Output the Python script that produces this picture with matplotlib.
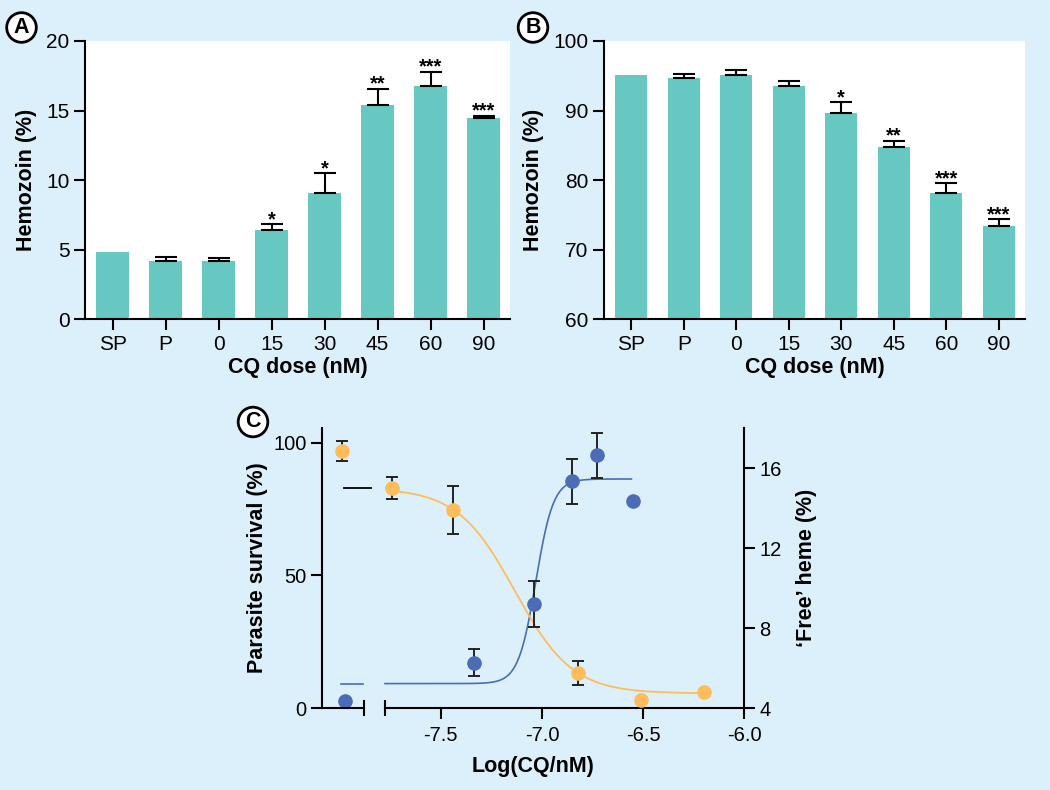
import matplotlib
matplotlib.use("Agg")
import matplotlib.pyplot as plt
from matplotlib.ticker import FormatStrFormatter
import numpy as np

plt.rcParams['font.family'] = ['Liberation Sans', 'DejaVu Sans']
plt.rcParams['axes.unicode_minus'] = False

BG = '#dcf0fc'
TEAL = '#67c8c2'
ORANGE = '#fdbd5a'
BLUE = '#4a6db5'

# panels A and B: hemozoin per CQ dose
doses = ['SP', 'P', '0', '15', '30', '45', '60', '90']
hz_a = [4.86, 4.19, 4.19, 6.41, 9.11, 15.43, 16.79, 14.45]
hz_a_err = [0, 0.31, 0.26, 0.43, 1.39, 1.15, 0.99, 0.19]
stars_a = ['', '', '', '*', '*', '**', '***', '***']

hz_b = [95.07, 94.74, 95.07, 93.49, 89.62, 84.74, 78.18, 73.40]
hz_b_err = [0, 0.46, 0.72, 0.77, 1.58, 0.91, 1.39, 1.00]
stars_b = ['', '', '', '', '*', '**', '***', '***']

# panel C: survival (left axis) and free heme (right axis)
surv_x = [-7.99, -7.744, -7.438, -6.82, -6.51, -6.20]
surv_y = [96.9, 83.0, 74.8, 13.2, 3.1, 6.0]
surv_err = [3.7, 4.2, 9.0, 4.5, 0, 0]

heme_x = [-7.975, -7.336, -7.037, -6.85, -6.728, -6.548]
heme_y = [4.34, 6.27, 9.22, 15.33, 16.63, 14.35]
heme_err = [0, 0.67, 1.15, 1.12, 1.12, 0]

# fitted dose-response curves (bottom, top, logEC50, hill)
surv_fit = (5.5, 83.0, -7.134, 3.05)
heme_fit = (5.22, 15.45, -7.03, 10.0)

W, H = 1050, 790
fig = plt.figure(figsize=(W / 100, H / 100), dpi=100, facecolor=BG)


def px_axes(left, top, right, bottom):
    return fig.add_axes([left / W, 1 - bottom / H, (right - left) / W, (bottom - top) / H])


def style(ax):
    for s in ['left', 'bottom', 'right']:
        ax.spines[s].set_linewidth(1.5)
    ax.tick_params(width=1.5, length=8, labelsize=15, pad=3)


def bar_panel(ax, vals, errs, stars, ylim, yticks):
    x = np.arange(len(doses))
    ax.bar(x, vals, width=0.61, color=TEAL, zorder=2)
    has = np.asarray(errs) > 0
    ex = x[has]
    ev = np.asarray(vals)[has]
    ee = np.asarray(errs)[has]
    ax.errorbar(ex, ev, yerr=[np.zeros(len(ee)), ee], fmt='none', ecolor='black',
                elinewidth=1.5, capsize=8, capthick=1.5, zorder=3)
    for xi, v, e, s in zip(x, vals, errs, stars):
        if s:
            ax.annotate(s, (xi, v + e), xytext=(0, -0.5), textcoords='offset points',
                        ha='center', va='baseline', fontsize=14.5, fontweight='bold')
    ax.set_xlim(-0.52, 7.5)
    ax.set_ylim(*ylim)
    ax.set_yticks(yticks)
    ax.set_xticks(x)
    ax.set_xticklabels(doses)
    ax.spines['top'].set_visible(False)
    ax.spines['right'].set_visible(False)
    style(ax)
    ax.set_xlabel('CQ dose (nM)', fontsize=15.5, fontweight='bold', labelpad=2)
    ax.set_ylabel('Hemozoin (%)', fontsize=15.5, fontweight='bold', labelpad=7)


axA = px_axes(85, 41, 510, 319.5)
bar_panel(axA, hz_a, hz_a_err, stars_a, (0, 20), [0, 5, 10, 15, 20])
axB = px_axes(604, 41, 1025, 319.5)
bar_panel(axB, hz_b, hz_b_err, stars_b, (60, 100), [60, 70, 80, 90, 100])


def logistic(x, p, rising):
    b, t, x0, h = p
    if rising:
        return b + (t - b) / (1 + 10 ** ((x0 - x) * h))
    return b + (t - b) / (1 + 10 ** ((x - x0) * h))


axC = px_axes(322, 428, 744, 708)
axR = axC.twinx()
axC.set_zorder(2)
axC.patch.set_visible(False)
axR.set_facecolor('white')

xs = np.linspace(-7.744, -6.203, 300)
axC.plot(xs, logistic(xs, surv_fit, False), color=ORANGE, lw=1.3, zorder=2)
axC.plot([-7.979, -7.846], [83.0, 83.0], color='black', lw=1.3)

xh = np.linspace(-7.776, -6.557, 300)
axR.plot(xh, logistic(xh, heme_fit, True), color=BLUE, lw=1.2)
axR.plot([-7.993, -7.885], [heme_fit[0]] * 2, color=BLUE, lw=1.2)

YTOP = 105.66


def to_left(v):
    # heme values mapped onto the left scale (right axis spans 4..18)
    return (np.asarray(v) - 4) / 14 * YTOP


def points(ax, xv, yv, ev, color, z):
    xv, yv, ev = map(np.asarray, (xv, yv, ev))
    m = ev > 0
    ax.errorbar(xv[m], yv[m], yerr=ev[m], fmt='none', ecolor='#222222',
                elinewidth=1.4, capsize=4.5, capthick=1.4, zorder=z)
    ax.plot(xv, yv, 'o', color=color, ms=9.5, zorder=z + 0.5)


points(axC, surv_x, surv_y, surv_err, ORANGE, 3)
points(axC, heme_x, to_left(heme_y), np.asarray(heme_err) / 14 * YTOP, BLUE, 4)

axC.set_xlim(-8.088, -6.0)
axC.set_ylim(0, YTOP)
axR.set_ylim(4, 18)
axC.set_yticks([0, 50, 100])
axR.set_yticks([4, 8, 12, 16])
axC.set_xticks([-7.5, -7.0, -6.5, -6.0])
axC.xaxis.set_major_formatter(FormatStrFormatter('%.1f'))
for a in (axC, axR):
    a.spines['top'].set_visible(False)
    style(a)
    a.tick_params(labelsize=14.5)
axC.tick_params(axis='x', pad=5)
axC.spines['right'].set_visible(False)
axR.spines['left'].set_visible(False)
axR.spines['bottom'].set_visible(False)
axC.spines['bottom'].set_bounds(-7.776, -6.0)
axC.plot([-8.088, -7.88], [0, 0], color='black', lw=1.5, clip_on=False, zorder=5)
axC.plot([-7.88, -7.776], [0, 0], ls='none', marker='|', ms=12, mew=1.5, color='black',
         clip_on=False, zorder=5)
axC.set_xlabel('Log(CQ/nM)', fontsize=15.5, fontweight='bold', labelpad=8)
axC.set_ylabel('Parasite survival (%)', fontsize=15.5, fontweight='bold', labelpad=4)
axR.set_ylabel('\u2018Free\u2019 heme (%)', fontsize=15.5, fontweight='bold', labelpad=10)

for lbl, (x, y) in zip(['A', 'B', 'C'], [(21.5, 27.5), (533, 27.5), (253, 422)]):
    fig.text(x / W, 1 - y / H, lbl, ha='center', va='center', fontsize=15.5, fontweight='bold',
             bbox=dict(boxstyle='circle,pad=0.2', fc='white', ec='black', lw=2))

fig.savefig('out.png', dpi=100, facecolor=BG)
